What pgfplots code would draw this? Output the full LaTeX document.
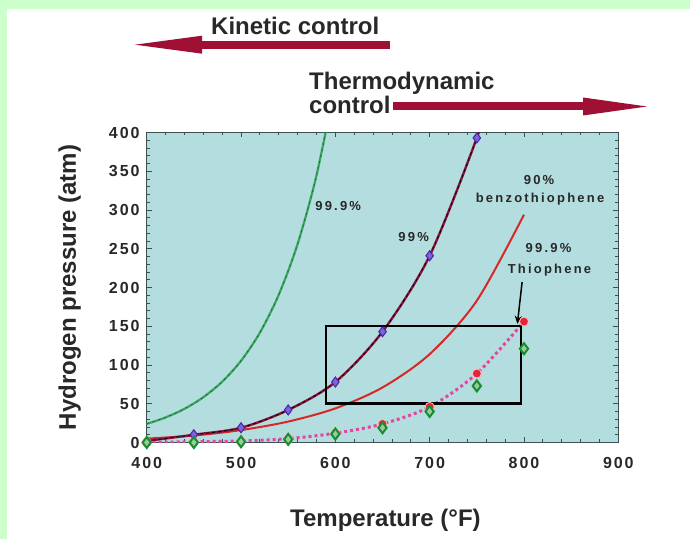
\documentclass[border=0pt]{standalone}
\usepackage{fontspec}
\setmainfont{Liberation Sans}
\newfontfamily\tickfont[LetterSpace=12]{Liberation Sans Bold}
\newfontfamily\notefont[LetterSpace=17]{Liberation Sans Bold}
\usepackage{pgfplots}
\pgfplotsset{compat=1.18}
\usetikzlibrary{arrows.meta}

\definecolor{pagegreen}{RGB}{204,255,204}
\definecolor{plotbg}{RGB}{180,221,223}
\definecolor{frame}{RGB}{60,80,80}
\definecolor{txt}{RGB}{40,40,40}
\definecolor{arrowred}{RGB}{160,15,52}
\definecolor{curvegreen}{RGB}{55,165,95}
\definecolor{darkgreen}{RGB}{30,100,55}
\definecolor{maroon}{RGB}{130,20,60}
\definecolor{curvered}{RGB}{215,40,40}
\definecolor{dotpink}{RGB}{225,70,160}
\definecolor{markblue}{RGB}{120,100,220}
\definecolor{markpurple}{RGB}{80,30,160}
\definecolor{markred}{RGB}{230,35,55}
\definecolor{markgreen}{RGB}{25,140,45}

\begin{document}
\begin{tikzpicture}[x=1bp,y=1bp]
\path[use as bounding box] (0,0) rectangle (690,539);
\fill[white] (0,0) rectangle (690,539);
\fill[pagegreen] (0,530) rectangle (690,539);
\fill[pagegreen] (0,0) rectangle (7,539);

% arrows at the top
\node[anchor=base west, inner sep=0, text=txt, font=\fontsize{24bp}{28bp}\selectfont\bfseries] at (211,504) {Kinetic control};
\fill[arrowred] (198,490.3) rectangle (390,498.3);
\fill[arrowred] (135,494.3) -- (202,503.3) -- (202,485.3) -- cycle;

\node[anchor=base west, inner sep=0, text=txt, font=\fontsize{24bp}{28bp}\selectfont\bfseries] at (309,449) {Thermodynamic};
\node[anchor=base west, inner sep=0, text=txt, font=\fontsize{24bp}{28bp}\selectfont\bfseries] at (309,425) {control};
\fill[arrowred] (393,428.5) rectangle (587,436.5);
\fill[arrowred] (647,432.5) -- (583,441.5) -- (583,423.5) -- cycle;

\begin{axis}[
  at={(146.7bp,96.5bp)}, anchor=south west,
  width=471.6bp, height=310bp, scale only axis,
  xmin=400, xmax=900, ymin=0, ymax=400,
  xtick={400,500,...,900}, ytick={0,50,...,400},
  minor x tick num=4, minor y tick num=4,
  major tick length=5bp, minor tick length=3bp,
  tick align=inside,
  axis background/.style={fill=plotbg},
  axis line style={frame, line width=0.9bp},
  tick style={frame, line width=0.8bp},
  /pgf/number format/assume math mode=true,
  ticklabel style={font=\fontsize{16bp}{18bp}\selectfont\tickfont, text=txt, inner sep=0pt},
  xticklabel style={anchor=north, yshift=-15bp},
  yticklabel style={anchor=east, xshift=-7bp},
  xlabel={Temperature (°F)},
  ylabel={Hydrogen pressure (atm)},
  label style={font=\fontsize{24bp}{28bp}\selectfont\bfseries, text=txt, inner sep=0pt},
  xlabel style={at={(axis description cs:0.5,0)}, anchor=base, yshift=-84.5bp, xshift=3bp},
  ylabel style={at={(axis description cs:0,0.5)}, anchor=center, yshift=77bp},
  clip marker paths=false,
]

% 99.9% (green)
\addplot[curvegreen, line width=2.2bp, smooth] coordinates {
  (400,24) (420,32.3) (440,43.4) (460,58.4) (480,78.4) (500,105.4) (520,141.7)
  (540,190.6) (560,256.2) (580,344.5) (600,463)};
\addplot[darkgreen, line width=0.7bp, smooth, dash pattern=on 2bp off 4bp] coordinates {
  (400,24) (420,32.3) (440,43.4) (460,58.4) (480,78.4) (500,105.4) (520,141.7)
  (540,190.6) (560,256.2) (580,344.5) (600,463)};

% 90% benzothiophene (red)
\addplot[curvered, line width=2bp, smooth] coordinates {
  (400,5) (450,9) (500,16) (550,27) (600,44) (650,71) (700,114) (750,183) (800,294)};

% 99% (maroon with markers)
\addplot[maroon, line width=2.4bp, smooth] coordinates {
  (400,2) (450,10) (500,19) (550,42) (600,78) (650,143) (700,241) (750,393) (760,440)};
\addplot[black, line width=0.7bp, smooth, dash pattern=on 3bp off 3bp] coordinates {
  (400,2) (450,10) (500,19) (550,42) (600,78) (650,143) (700,241) (750,393) (760,440)};
\addplot[only marks, mark=diamond*, mark size=5bp,
  mark options={fill=markblue, draw=markpurple, line width=1bp}] coordinates {
  (450,10) (500,19) (550,42) (600,78) (650,143) (700,241) (750,393)};

% 99.9% thiophene (dotted)
\addplot[dotpink, line width=3bp, smooth, dash pattern=on 3bp off 3bp] coordinates {
  (400,0) (450,1) (500,2) (550,5) (600,12) (650,24) (700,46) (750,89) (800,156)};
\addplot[only marks, mark=*, mark size=4.5bp,
  mark options={fill=markred, draw=pink, line width=0.8bp}] coordinates {
  (400,0) (450,1) (500,2) (550,5) (600,12) (650,24) (700,46) (750,89) (800,156)};

% green diamonds
\addplot[only marks, mark=diamond*, mark size=5.5bp,
  mark options={fill=white!55!markgreen, draw=markgreen, line width=2bp}] coordinates {
  (400,0) (450,0) (500,1) (550,4) (600,11) (650,19) (700,40) (750,73) (800,121)};

% box and arrow
\draw[black, line width=2.5bp] (axis cs:590,50) rectangle (axis cs:797,150);
\draw[black, line width=1.5bp, -{Stealth[length=8bp,width=7bp]}] (axis cs:798,207) -- (axis cs:793,153);

% curve labels
\begin{scope}[every node/.style={text=txt, inner sep=0pt, font=\fontsize{13bp}{15bp}\selectfont\notefont}]
\node at (axis cs:603,305) {99.9\%};
\node at (axis cs:683,265) {99\%};
\node at (axis cs:816,339) {90\%};
\node at (axis cs:817,314) {benzothiophene};
\node at (axis cs:826,251) {99.9\%};
\node at (axis cs:827,223) {Thiophene};
\end{scope}
\end{axis}
\end{tikzpicture}
\end{document}
